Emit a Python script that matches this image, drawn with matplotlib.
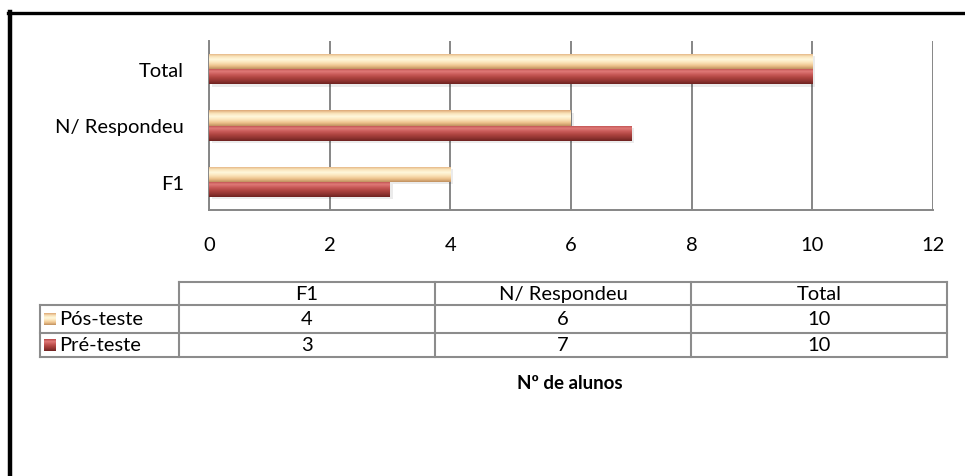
import numpy as np
import matplotlib
matplotlib.use("Agg")
import matplotlib.pyplot as plt
from matplotlib.colors import LinearSegmentedColormap
from matplotlib.lines import Line2D
from matplotlib.patches import Rectangle

plt.rcParams['font.family'] = ['Lato', 'DejaVu Sans']

categories = ["F1", "N/ Respondeu", "Total"]
series_names = ["Pós-teste", "Pré-teste"]
pos_teste = [4, 6, 10]
pre_teste = [3, 7, 10]
x_ticks = [0, 2, 4, 6, 8, 10, 12]
axis_title = "Nº de alunos"

light_cmap = LinearSegmentedColormap.from_list(
    "light", ["#DDA774", "#F9E2B8", "#FFF8DC", "#FBE3B8", "#EDC28C", "#C0905F"])
dark_cmap = LinearSegmentedColormap.from_list(
    "dark", ["#B84848", "#E07A78", "#C85A58", "#AE4440", "#923532", "#6E2220"])

W, H = 965, 477
fig = plt.figure(figsize=(W / 100, H / 100), dpi=100)

# outer border (top and left only visible)
fig.add_artist(Line2D([8 / W, 1], [1 - 14 / H, 1 - 14 / H], color="black", lw=2.4))
fig.add_artist(Line2D([10 / W, 10 / W], [0, 1 - 13 / H], color="black", lw=3.2))

ax = fig.add_axes([209 / W, 1 - 211 / H, (933 - 209) / W, (211 - 42) / H])
y = np.arange(len(categories))
h = 0.27
bars_pos = ax.barh(y + h / 2, pos_teste, height=h, color="none")
bars_pre = ax.barh(y - h / 2, pre_teste, height=h, color="none")

grad = np.linspace(0, 1, 64).reshape(-1, 1)
for bars, cmap in [(bars_pos, light_cmap), (bars_pre, dark_cmap)]:
    for b in bars:
        x0, y0 = b.get_x(), b.get_y()
        bw, bh = b.get_width(), b.get_height()
        # soft shadow
        ax.add_patch(Rectangle((x0 + 0.05, y0 - 0.04), bw, bh, color="#000000",
                               alpha=0.08, lw=0, zorder=2))
        im = ax.imshow(grad, cmap=cmap, aspect="auto", origin="upper",
                       extent=[x0, x0 + bw, y0, y0 + bh], zorder=3,
                       interpolation="bilinear")
        im.set_clip_path(b)

ax.set_xlim(0, 12)
ax.set_ylim(-0.5, 2.5)
ax.set_xticks(x_ticks)
ax.set_xticklabels([str(t) for t in x_ticks], fontsize=14.5)
ax.set_yticks(y)
ax.set_yticklabels(categories, fontsize=14.5)
ax.tick_params(length=0)
ax.tick_params(axis="y", pad=18)
ax.tick_params(axis="x", pad=19)
ax.grid(axis="x", color="#868686", lw=1.4, zorder=0)
ax.set_axisbelow(True)
for s in ["top", "right"]:
    ax.spines[s].set_visible(False)
for s in ["left", "bottom"]:
    ax.spines[s].set_color("#868686")
    ax.spines[s].set_linewidth(1.4)

# data table under the chart
tax = fig.add_axes([0, 0, 1, 1])
tax.axis("off")
lc = "#8C8C8C"
col_edges = [179, 435, 691, 947]
row_edges = [283, 306, 334, 358]
tax.plot([179, 947], [283, 283], color=lc, lw=1.5)
for r in row_edges[1:]:
    tax.plot([40, 947], [r, r], color=lc, lw=1.5)
tax.plot([40, 40], [306, 358], color=lc, lw=1.5)
for c in col_edges:
    tax.plot([c, c], [283, 358], color=lc, lw=1.5)

for i, cat in enumerate(categories):
    cx = (col_edges[i] + col_edges[i + 1]) / 2
    tax.text(cx, (283 + 306) / 2, cat, ha="center", va="center", fontsize=14.5)

for j, (name, vals, cmap) in enumerate([(series_names[0], pos_teste, light_cmap),
                                        (series_names[1], pre_teste, dark_cmap)]):
    ry = (row_edges[j + 1] + row_edges[j + 2]) / 2
    tax.imshow(grad, cmap=cmap, aspect="auto", origin="upper",
               extent=[44, 56, ry + 6, ry - 6], interpolation="bilinear", zorder=3)
    tax.text(59, ry, name, ha="left", va="center", fontsize=14.5)
    for i, v in enumerate(vals):
        cx = (col_edges[i] + col_edges[i + 1]) / 2
        tax.text(cx, ry, str(v), ha="center", va="center", fontsize=14.5)

tax.text(570, 384, axis_title, ha="center", va="center", fontsize=13.5, fontweight="bold")
tax.set_xlim(0, W)
tax.set_ylim(H, 0)

fig.savefig("out.png", dpi=100)
